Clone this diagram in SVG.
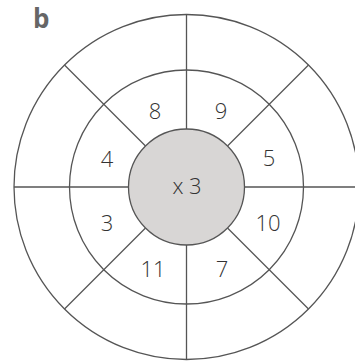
<svg xmlns="http://www.w3.org/2000/svg" width="355" height="361" viewBox="0 0 355 361">
<style>
.ring{fill:none;stroke:#555;stroke-width:1.3}
.core{fill:#d8d6d5;stroke:#555;stroke-width:1.3}
.ln{stroke:#555;stroke-width:1.3;fill:none}
.t{font-family:"Open Sans","Liberation Sans",sans-serif;font-weight:300;font-size:22px;fill:#333;text-anchor:middle;dominant-baseline:central}
.lbl{font-family:"Open Sans","Liberation Sans",sans-serif;font-weight:700;font-size:26px;fill:#666}
</style>
<rect width="355" height="361" fill="#fff"/>
<text class="lbl" x="33" y="28">b</text>
<g id="rings">
<circle class="ring" cx="186.5" cy="187" r="172.5"/>
<circle class="ring" cx="186.5" cy="187" r="117"/>
</g>
<g id="connectors">
<line class="ln" x1="186.5" y1="14.5" x2="186.5" y2="129"/>
<line class="ln" x1="186.5" y1="245" x2="186.5" y2="359.5"/>
<line class="ln" x1="14" y1="187" x2="128.5" y2="187"/>
<line class="ln" x1="244.5" y1="187" x2="359" y2="187"/>
<line class="ln" x1="64.5" y1="65" x2="145.5" y2="146"/>
<line class="ln" x1="308.5" y1="65" x2="227.5" y2="146"/>
<line class="ln" x1="64.5" y1="309" x2="145.5" y2="228"/>
<line class="ln" x1="308.5" y1="309" x2="227.5" y2="228"/>
</g>
<g id="center">
<circle class="core" cx="186.5" cy="187" r="58"/>
<text class="t" x="187" y="185">x 3</text>
</g>
<g id="n8"><text class="t" x="155" y="110">8</text></g>
<g id="n9"><text class="t" x="221" y="110">9</text></g>
<g id="n5"><text class="t" x="269" y="157">5</text></g>
<g id="n10"><text class="t" x="268" y="222">10</text></g>
<g id="n7"><text class="t" x="222" y="268">7</text></g>
<g id="n11"><text class="t" x="153" y="268">11</text></g>
<g id="n3"><text class="t" x="107" y="222">3</text></g>
<g id="n4"><text class="t" x="107" y="158">4</text></g>
</svg>
